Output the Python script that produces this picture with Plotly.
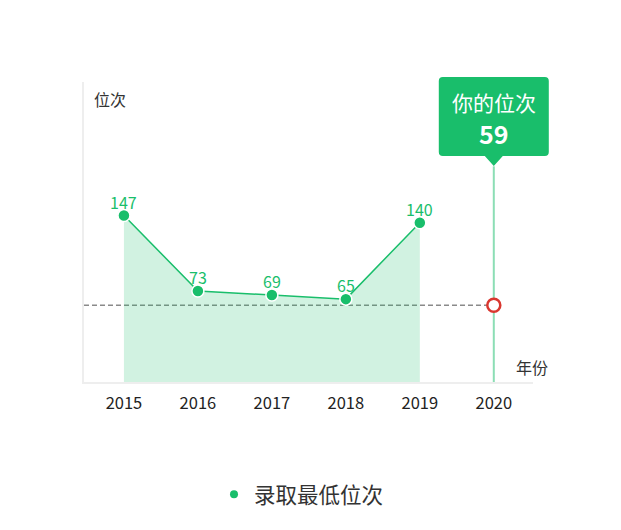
import plotly.graph_objects as go

# ---- data ----
years = [2015, 2016, 2017, 2018, 2019]
ranks = [147, 73, 69, 65, 140]
all_years = [2015, 2016, 2017, 2018, 2019, 2020]
my_year = 2020
my_rank = 59
series_name = "录取最低位次"
y_title = "位次"
x_title = "年份"
tip_title = "你的位次"

# ---- style / layout constants ----
GREEN = "#19be6b"
AREA = "rgba(25,190,107,0.2)"
VLINE = "rgba(25,190,107,0.5)"
RED = "#d9372f"
FONT = "Noto Sans CJK SC"
W, H = 613, 522          # page body has an 8px margin
ML, MT = 76, 74
PW, PH = 449, 300
MR, MB = W - ML - PW, H - MT - PH
X_MIN, X_MAX = 2014.46, 2020.53
Y_MIN, Y_MAX = -16.3, 278.0

fig = go.Figure()

# baseline for the area fill (bottom of the value axis)
fig.add_trace(go.Scatter(x=years, y=[Y_MIN] * len(years), mode="lines",
                         line=dict(width=0, color=AREA), hoverinfo="skip",
                         showlegend=False))
fig.add_trace(go.Scatter(
    x=years, y=ranks, mode="lines+markers", fill="tonexty", fillcolor=AREA,
    line=dict(color=GREEN, width=1.5),
    marker=dict(size=12, color=GREEN, line=dict(color="white", width=1.5)),
    showlegend=False, cliponaxis=False))

# "your rank" marker
fig.add_trace(go.Scatter(
    x=[my_year], y=[my_rank], mode="markers",
    marker=dict(size=13, color="white", line=dict(color=RED, width=2.5)),
    showlegend=False, cliponaxis=False))

# legend-only entry
fig.add_trace(go.Scatter(x=[None], y=[None], mode="markers", name=series_name,
                         marker=dict(size=8, color=GREEN)))

tip_frac = (my_year - X_MIN) / (X_MAX - X_MIN)
tip_bottom = 84.3  # px below plot top

shapes = [
    dict(type="line", xref="x", yref="y", x0=X_MIN, x1=my_year, y0=my_rank, y1=my_rank,
         line=dict(color="#8a8a8a", width=1.5, dash="5px,3px"), layer="below"),
    dict(type="line", xref="x", yref="paper", x0=my_year, x1=my_year, y0=0,
         y1=1 - tip_bottom / PH, line=dict(color=VLINE, width=2), layer="below"),
    dict(type="path", xref="x domain", yref="paper", xsizemode="pixel", ysizemode="pixel",
         xanchor=tip_frac, yanchor=1,
         path=("M -55,1 Q -55,5 -51,5 L 51,5 Q 55,5 55,1 L 55,-70 Q 55,-74 51,-74 "
               "L 9,-74 L 0,-84 L -9,-74 L -51,-74 Q -55,-74 -55,-70 Z"),
         fillcolor=GREEN, line=dict(width=0), layer="above"),
]

annotations = [
    dict(text=tip_title, xref="x", x=my_year, yref="paper", y=1, yshift=-20,
         showarrow=False, font=dict(size=21, color="white", family=FONT),
         xanchor="center", yanchor="middle"),
    dict(text="<b>%d</b>" % my_rank, xref="x", x=my_year, yref="paper", y=1, yshift=-51,
         showarrow=False, font=dict(size=25, color="white", family=FONT),
         xanchor="center", yanchor="middle"),
    dict(text=y_title, xref="paper", x=0, xshift=26, yref="paper", y=1, yshift=-17,
         showarrow=False, font=dict(size=16, color="#333333", family=FONT),
         xanchor="center", yanchor="middle"),
    dict(text=x_title, xref="paper", x=1, xshift=-1, yref="paper", y=0, yshift=15,
         showarrow=False, font=dict(size=16, color="#333333", family=FONT),
         xanchor="center", yanchor="middle"),
]
# value labels above the points
for yr, v in zip(years, ranks):
    annotations.append(dict(text=str(v), xref="x", x=yr, yref="y", y=v, yshift=14,
                            showarrow=False, xanchor="center", yanchor="middle",
                            font=dict(size=16, color=GREEN, family=FONT)))

fig.update_layout(
    width=W, height=H, margin=dict(l=ML, r=MR, t=MT, b=MB),
    paper_bgcolor="white", plot_bgcolor="white",
    font=dict(family=FONT, color="#333333"),
    shapes=shapes, annotations=annotations,
    showlegend=True,
    legend=dict(orientation="h", x=0.5 - 7 / PW, xanchor="center", y=-0.374, yanchor="middle",
                font=dict(size=21.5, color="#333333", family=FONT),
                itemwidth=30, bgcolor="rgba(0,0,0,0)"),
    xaxis=dict(range=[X_MIN, X_MAX], tickmode="array", tickvals=all_years,
               ticktext=[str(y) for y in all_years], showgrid=False, zeroline=False,
               showline=True, linecolor="#eeeeee", linewidth=1.5,
               ticks="outside", ticklen=5, tickcolor="rgba(0,0,0,0)",
               tickfont=dict(size=16.5, color="#222222", family=FONT), fixedrange=True),
    yaxis=dict(range=[Y_MIN, Y_MAX], showgrid=False, zeroline=False, showticklabels=False,
               showline=True, linecolor="#eeeeee", linewidth=1.5, ticks="", fixedrange=True),
)

fig.write_html("out.html")
